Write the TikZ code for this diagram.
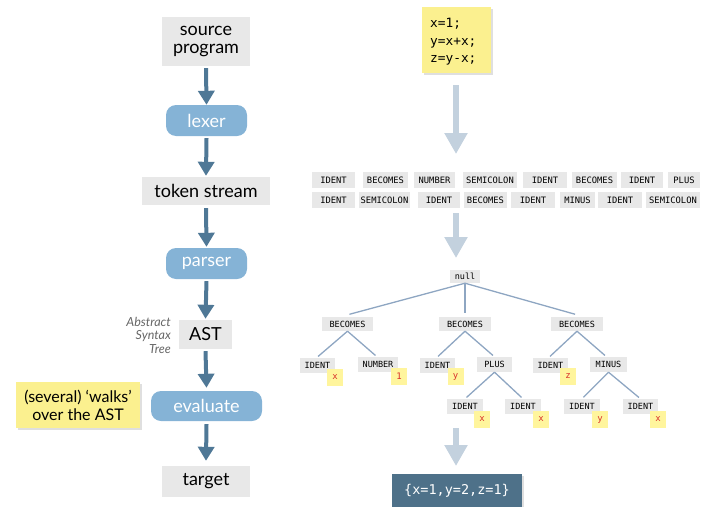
\documentclass[tikz,border=0pt]{standalone}
\usepackage{fontspec}
\setmainfont{Lato}
\setmonofont{DejaVu Sans Mono}
\usetikzlibrary{arrows.meta,shadows}

\definecolor{boxgray}{HTML}{E8E8E8}
\definecolor{pillblue}{HTML}{85B3D6}
\definecolor{flowarrow}{HTML}{4F7896}
\definecolor{lightarrow}{HTML}{C3D1DE}
\definecolor{treeedge}{HTML}{8EA6C2}
\definecolor{notefill}{HTML}{FBF08F}
\definecolor{badgefill}{HTML}{FFF59D}
\definecolor{badgetext}{HTML}{D9312B}
\definecolor{resultfill}{HTML}{4E7189}

\tikzset{
  stage/.style={fill=boxgray, font=\fontsize{18}{19.5}\selectfont, text=black,
                inner sep=0pt, align=center},
  pill/.style={fill=pillblue, rounded corners=10pt, text=white,
               font=\fontsize{18}{19.5}\selectfont, inner sep=0pt},
  flow/.style={draw=flowarrow, line width=4pt,
               -{Triangle[width=16pt,length=14pt]}},
  bigflow/.style={draw=lightarrow, line width=5.5pt,
               -{Triangle[width=22pt,length=21pt]}},
  note/.style={fill=notefill, drop shadow={shadow xshift=2pt, shadow yshift=-2pt, opacity=0.25}},
  tok/.style={fill=boxgray, font=\ttfamily\fontsize{8.8}{9}\selectfont,
              minimum height=16pt, inner sep=0pt},
  tnode/.style={fill=boxgray, font=\ttfamily\fontsize{8.5}{9}\selectfont,
              minimum height=15pt, inner sep=0pt},
  badge/.style={fill=badgefill, text=badgetext, font=\ttfamily\fontsize{9}{9}\selectfont,
              minimum width=16pt, minimum height=17pt, inner sep=0pt},
  edge/.style={draw=treeedge, line width=1.3pt, shorten >=2pt},
}

\begin{document}
\begin{tikzpicture}[x=1pt,y=-1pt]
\useasboundingbox (0,0) rectangle (709,506);

% ---------- left column: compiler pipeline ----------
\node[stage, minimum width=88pt, minimum height=49pt] (src) at (206,41.5) {source\\[-2pt]program};
\node[pill, minimum width=81pt, minimum height=31pt] (lex) at (206.5,120.5) {lexer};
\node[stage, minimum width=128pt, minimum height=28pt] (ts) at (206,191) {token stream};
\node[pill, minimum width=81pt, minimum height=31pt] (par) at (206.5,263.5) {parser};
\node[stage, minimum width=53pt, minimum height=29pt] (ast) at (205.5,334.5) {AST};
\node[pill, minimum width=111pt, minimum height=30pt] (ev) at (206.5,406) {evaluate};
\node[stage, minimum width=88pt, minimum height=31pt] (tgt) at (206,481.5) {target};

\node[anchor=east, align=right, text=black!60, inner sep=0pt,
      font=\itshape\fontsize{12.5}{13.5}\selectfont] (astlabel) at (171,335)
      {Abstract\\Syntax\\Tree};

\node[note, minimum width=124pt, minimum height=46pt, align=center, inner sep=0pt,
      font=\fontsize{16}{18}\selectfont] (walks) at (78,405)
      {(several) ‘walks’\\over the AST};

\draw[flow] ([yshift=-2pt]src.south) -- (lex.north);
\draw[flow] ([yshift=-2pt]lex.south) -- ([yshift=1pt]ts.north);
\draw[flow] ([yshift=-3pt]ts.south) -- ([yshift=1pt]par.north);
\draw[flow] ([yshift=-2pt]par.south) -- ([yshift=1pt]ast.north);
\draw[flow] ([yshift=-2pt]ast.south) -- ([yshift=3pt]ev.north);
\draw[flow] ([yshift=-3pt]ev.south) -- ([yshift=5pt]tgt.north);

% ---------- right column: example ----------
\node[note, minimum width=69pt, minimum height=66pt, inner sep=0pt] (code) at (456.5,40) {};
\node[anchor=west, align=left, inner sep=0pt,
      font=\ttfamily\fontsize{12.8}{17.5}\selectfont] (codetext) at (430,42)
      {x=1;\\y=x+x;\\z=y-x;};

% token stream, first row
\node[tok, minimum width=43pt] (t1) at (333.5,180) {IDENT};
\node[tok, minimum width=45pt] (t2) at (385.5,180) {BECOMES};
\node[tok, minimum width=41pt] (t3) at (434.5,180) {NUMBER};
\node[tok, minimum width=54pt] (t4) at (490,180) {SEMICOLON};
\node[tok, minimum width=44pt] (t5) at (545,180) {IDENT};
\node[tok, minimum width=45pt] (t6) at (594.5,180) {BECOMES};
\node[tok, minimum width=42pt] (t7) at (642,180) {IDENT};
\node[tok, minimum width=32pt] (t8) at (684,180) {PLUS};
% token stream, second row
\node[tok, minimum width=43pt] (u1) at (333.5,200) {IDENT};
\node[tok, minimum width=51pt] (u2) at (384.5,200) {SEMICOLON};
\node[tok, minimum width=42pt] (u3) at (439,200) {IDENT};
\node[tok, minimum width=43pt] (u4) at (485.5,200) {BECOMES};
\node[tok, minimum width=44pt] (u5) at (533,200) {IDENT};
\node[tok, minimum width=35pt] (u6) at (577.5,200) {MINUS};
\node[tok, minimum width=44pt] (u7) at (620,200) {IDENT};
\node[tok, minimum width=54pt] (u8) at (673,200) {SEMICOLON};

% syntax tree
\node[tnode, minimum width=30pt, minimum height=13pt] (root) at (465,276.5) {null};
\node[tnode, minimum width=51pt, minimum height=14pt] (b1) at (347.5,324) {BECOMES};
\node[tnode, minimum width=52pt, minimum height=14pt] (b2) at (465,324) {BECOMES};
\node[tnode, minimum width=52pt, minimum height=14pt] (b3) at (577,324) {BECOMES};

\node[tnode, minimum width=35pt] (ix) at (317.5,365.5) {IDENT};
\node[tnode, minimum width=40pt] (num) at (378,364.5) {NUMBER};
\node[tnode, minimum width=35pt] (iy) at (437.5,365.5) {IDENT};
\node[tnode, minimum width=35pt] (plus) at (494.5,364.5) {PLUS};
\node[tnode, minimum width=35pt] (iz) at (550.5,365.5) {IDENT};
\node[tnode, minimum width=37pt] (minus) at (608.5,364.5) {MINUS};
\node[tnode, minimum width=36pt] (px) at (465,406.5) {IDENT};
\node[tnode, minimum width=36pt] (px2) at (523,406.5) {IDENT};
\node[tnode, minimum width=36pt] (my) at (582,406.5) {IDENT};
\node[tnode, minimum width=35pt] (mx) at (640.5,406.5) {IDENT};

\draw[edge] (root.south) -- ([yshift=2pt]b1.north);
\draw[edge] (root.south) -- ([yshift=2pt]b2.north);
\draw[edge] (root.south) -- ([yshift=2pt]b3.north);
\draw[edge] (b1.south) -- ([xshift=-1pt]ix.north);
\draw[edge] (b1.south) -- ([xshift=-1pt]num.north);
\draw[edge] (b2.south) -- ([xshift=-1pt]iy.north);
\draw[edge] (b2.south) -- (plus.north);
\draw[edge] (b3.south) -- ([xshift=-2pt]iz.north);
\draw[edge] (b3.south) -- ([xshift=-2pt]minus.north);
\draw[edge] (plus.south) -- (px.north);
\draw[edge] (plus.south) -- (px2.north);
\draw[edge] (minus.south) -- (my.north);
\draw[edge] (minus.south) -- (mx.north);

\node[badge] (vx) at (335,377.5) {x};
\node[badge] (v1) at (399,376) {1};
\node[badge] (vy) at (455.5,376.5) {y};
\node[badge] (vz) at (568,376.5) {z};
\node[badge] (vpx) at (482,419.5) {x};
\node[badge] (vpx2) at (541,419.5) {x};
\node[badge] (vmy) at (600,419.5) {y};
\node[badge] (vmx) at (658,419.5) {x};

% result
\node[fill=resultfill, text=white, minimum width=130pt, minimum height=34pt, inner sep=0pt,
      drop shadow={shadow xshift=2pt, shadow yshift=-2pt, opacity=0.25},
      font=\ttfamily\fontsize{13.5}{15}\selectfont] (res) at (457,491)
      {\{x=1,y=2,z=1\}};

% stage arrows between the example steps
\coordinate (a1s) at (456,85);
\coordinate (a1e) at (456,154);
\coordinate (a2s) at (456,213);
\coordinate (a2e) at (456,258);
\coordinate (a3s) at (456,428);
\coordinate (a3e) at (456,466);
\draw[bigflow] (a1s) -- (a1e);
\draw[bigflow] (a2s) -- (a2e);
\draw[bigflow] (a3s) -- (a3e);
\end{tikzpicture}
\end{document}
